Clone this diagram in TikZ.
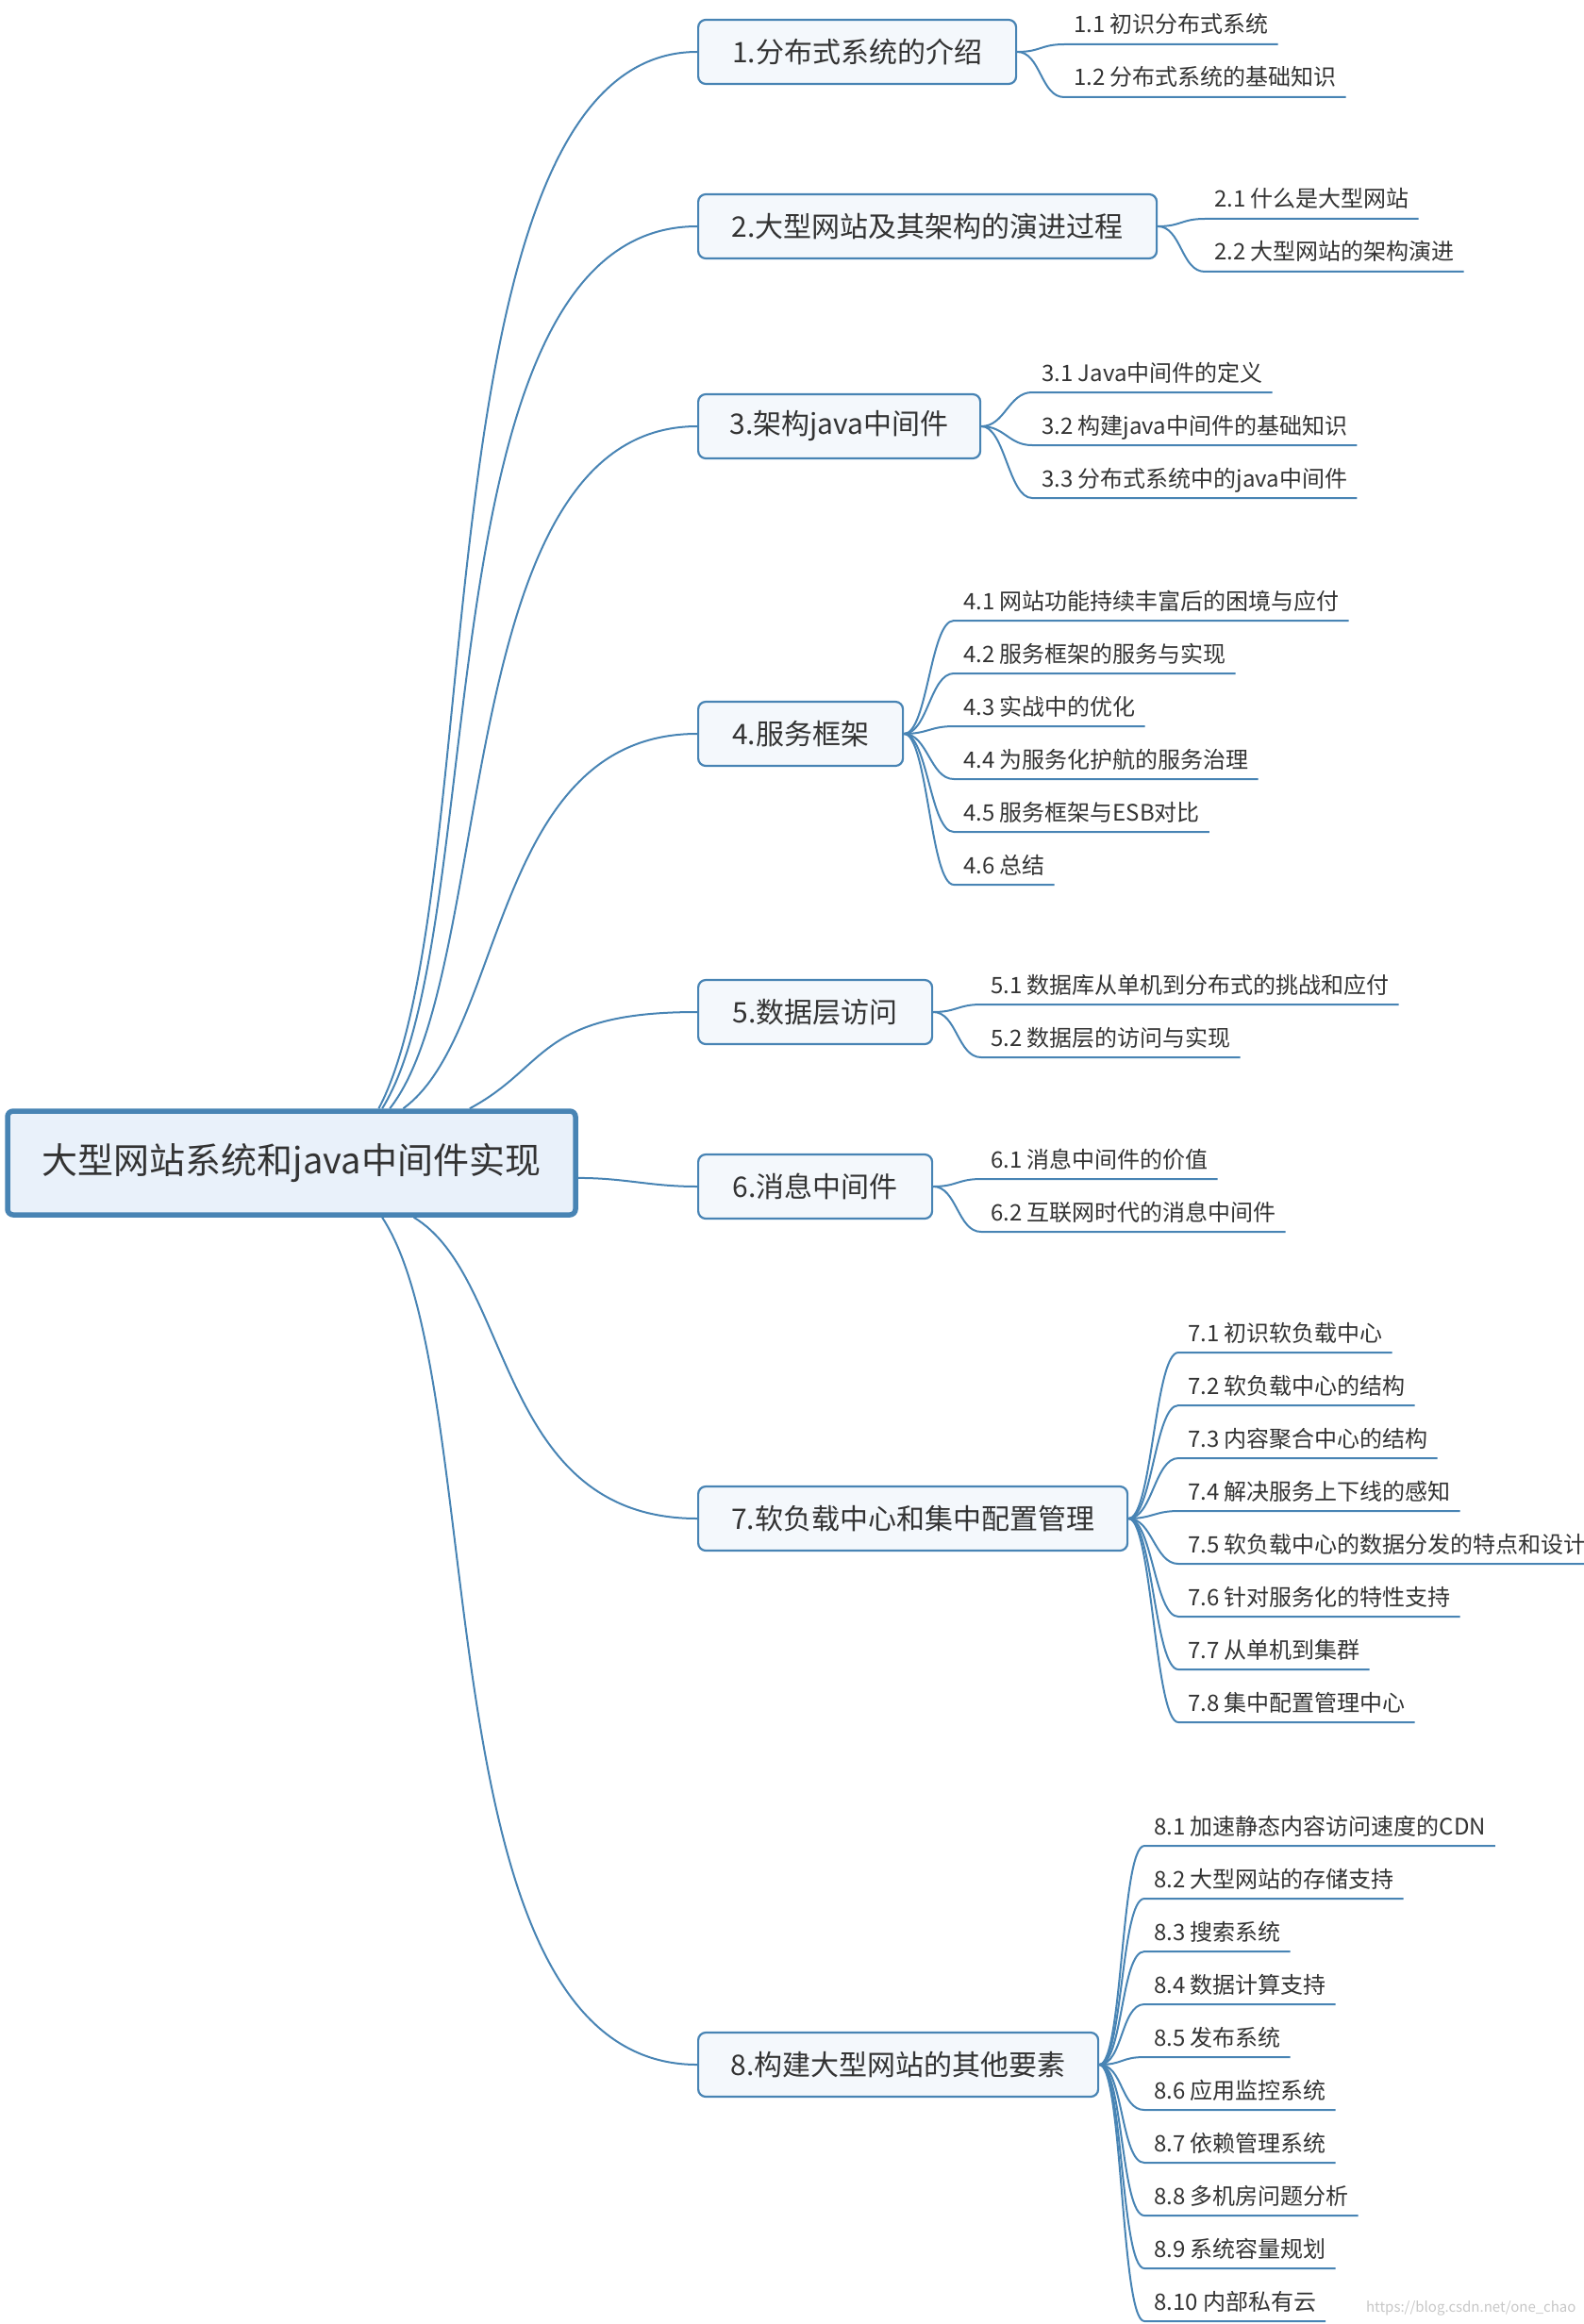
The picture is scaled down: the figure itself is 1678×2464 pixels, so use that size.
\documentclass[tikz,border=0pt]{standalone}
\usepackage{fontspec}
\setmainfont{Noto Sans CJK SC}
\definecolor{linec}{RGB}{72,132,180}
\definecolor{rootfill}{RGB}{233,241,250}
\definecolor{topicfill}{RGB}{244,248,252}
\definecolor{textc}{RGB}{51,51,51}
\begin{document}
\begin{tikzpicture}[x=1pt,y=-1pt,
	root/.style={draw=linec,line width=5.5pt,fill=rootfill,rounded corners=6pt,minimum width=602pt,minimum height=110pt,text=textc,font=\fontsize{38pt}{44pt}\selectfont},
	topic/.style={draw=linec,line width=2.2pt,fill=topicfill,rounded corners=8pt,minimum height=68pt,anchor=west,text=textc,font=\fontsize{30pt}{36pt}\selectfont},
	leaf/.style={anchor=south west,inner xsep=10pt,inner ysep=7pt,text height=20pt,text depth=5pt,outer sep=0pt,text=textc,font=\fontsize{24pt}{28pt}\selectfont},
	link/.style={draw=linec,line width=2pt}]
			\useasboundingbox (0,0) rectangle (1678,2464);
			\node[root] (root) at (309,1233) {大型网站系统和java中间件实现};
			\node[topic,minimum width=337pt] (t1) at (739,55) {1.分布式系统的介绍};
			\node[topic,minimum width=486pt] (t2) at (739,240) {2.大型网站及其架构的演进过程};
			\node[topic,minimum width=299pt] (t3) at (739,452) {3.架构java中间件};
			\node[topic,minimum width=217pt] (t4) at (739,778) {4.服务框架};
			\node[topic,minimum width=248pt] (t5) at (739,1073) {5.数据层访问};
			\node[topic,minimum width=248pt] (t6) at (739,1258) {6.消息中间件};
			\node[topic,minimum width=455pt] (t7) at (739,1610) {7.软负载中心和集中配置管理};
			\node[topic,minimum width=424pt] (t8) at (739,2189) {8.构建大型网站的其他要素};
			% root to topics
			\draw[link] (root.32.5) .. controls +(119,-224) and +(-298,0) .. (t1.west);
			\draw[link] (root.31.1) .. controls +(117,-187) and +(-294,0) .. (t2.west);
			\draw[link] (root.29.4) .. controls +(114,-145) and +(-262,0) .. (t3.west);
			\draw[link] (root.26.2) .. controls +(109,-79) and +(-218,0) .. (t4.west);
			\draw[link] (root.17.1) .. controls +(84,-45) and +(-169,0) .. (t5.west);
			\draw[link] (root.-3.4) .. controls +(50,0) and +(-50,0) .. (t6.west);
			\draw[link] (root.-24.7) .. controls +(106,64) and +(-213,0) .. (t7.west);
			\draw[link] (root.-31.7) .. controls +(118,180) and +(-296,0) .. (t8.west);
			% 1
			\node[leaf] (t11) at (1128,47) {1.1 初识分布式系统};
			\node[leaf] (t12) at (1128,103) {1.2 分布式系统的基础知识};
			\draw[link] (t1.east) .. controls +(25,0) and +(-25,0) .. (t11.south west) -- (t11.south east);
			\draw[link] (t1.east) .. controls +(25,0) and +(-25,0) .. (t12.south west) -- (t12.south east);
			% 2
			\node[leaf] (t21) at (1277,232) {2.1 什么是大型网站};
			\node[leaf] (t22) at (1277,288) {2.2 大型网站的架构演进};
			\draw[link] (t2.east) .. controls +(25,0) and +(-25,0) .. (t21.south west) -- (t21.south east);
			\draw[link] (t2.east) .. controls +(25,0) and +(-25,0) .. (t22.south west) -- (t22.south east);
			% 3
			\node[leaf] (t31) at (1094,416) {3.1 Java中间件的定义};
			\node[leaf] (t32) at (1094,472) {3.2 构建java中间件的基础知识};
			\node[leaf] (t33) at (1094,528) {3.3 分布式系统中的java中间件};
			\draw[link] (t3.east) .. controls +(25,0) and +(-25,0) .. (t31.south west) -- (t31.south east);
			\draw[link] (t3.east) .. controls +(25,0) and +(-25,0) .. (t32.south west) -- (t32.south east);
			\draw[link] (t3.east) .. controls +(25,0) and +(-25,0) .. (t33.south west) -- (t33.south east);
			% 4
			\node[leaf] (t41) at (1011,658) {4.1 网站功能持续丰富后的困境与应付};
			\node[leaf] (t42) at (1011,714) {4.2 服务框架的服务与实现};
			\node[leaf] (t43) at (1011,770) {4.3 实战中的优化};
			\node[leaf] (t44) at (1011,826) {4.4 为服务化护航的服务治理};
			\node[leaf] (t45) at (1011,882) {4.5 服务框架与ESB对比};
			\node[leaf] (t46) at (1011,938) {4.6 总结};
			\draw[link] (t4.east) .. controls +(25,0) and +(-25,0) .. (t41.south west) -- (t41.south east);
			\draw[link] (t4.east) .. controls +(25,0) and +(-25,0) .. (t42.south west) -- (t42.south east);
			\draw[link] (t4.east) .. controls +(25,0) and +(-25,0) .. (t43.south west) -- (t43.south east);
			\draw[link] (t4.east) .. controls +(25,0) and +(-25,0) .. (t44.south west) -- (t44.south east);
			\draw[link] (t4.east) .. controls +(25,0) and +(-25,0) .. (t45.south west) -- (t45.south east);
			\draw[link] (t4.east) .. controls +(25,0) and +(-25,0) .. (t46.south west) -- (t46.south east);
			% 5
			\node[leaf] (t51) at (1040,1065) {5.1 数据库从单机到分布式的挑战和应付};
			\node[leaf] (t52) at (1040,1121) {5.2 数据层的访问与实现};
			\draw[link] (t5.east) .. controls +(25,0) and +(-25,0) .. (t51.south west) -- (t51.south east);
			\draw[link] (t5.east) .. controls +(25,0) and +(-25,0) .. (t52.south west) -- (t52.south east);
			% 6
			\node[leaf] (t61) at (1040,1250) {6.1 消息中间件的价值};
			\node[leaf] (t62) at (1040,1306) {6.2 互联网时代的消息中间件};
			\draw[link] (t6.east) .. controls +(25,0) and +(-25,0) .. (t61.south west) -- (t61.south east);
			\draw[link] (t6.east) .. controls +(25,0) and +(-25,0) .. (t62.south west) -- (t62.south east);
			% 7
			\node[leaf] (t71) at (1249,1434) {7.1 初识软负载中心};
			\node[leaf] (t72) at (1249,1490) {7.2 软负载中心的结构};
			\node[leaf] (t73) at (1249,1546) {7.3 内容聚合中心的结构};
			\node[leaf] (t74) at (1249,1602) {7.4 解决服务上下线的感知};
			\node[leaf] (t75) at (1249,1658) {7.5 软负载中心的数据分发的特点和设计};
			\node[leaf] (t76) at (1249,1714) {7.6 针对服务化的特性支持};
			\node[leaf] (t77) at (1249,1770) {7.7 从单机到集群};
			\node[leaf] (t78) at (1249,1826) {7.8 集中配置管理中心};
			\draw[link] (t7.east) .. controls +(25,0) and +(-25,0) .. (t71.south west) -- (t71.south east);
			\draw[link] (t7.east) .. controls +(25,0) and +(-25,0) .. (t72.south west) -- (t72.south east);
			\draw[link] (t7.east) .. controls +(25,0) and +(-25,0) .. (t73.south west) -- (t73.south east);
			\draw[link] (t7.east) .. controls +(25,0) and +(-25,0) .. (t74.south west) -- (t74.south east);
			\draw[link] (t7.east) .. controls +(25,0) and +(-25,0) .. (t75.south west) -- (t75.south east);
			\draw[link] (t7.east) .. controls +(25,0) and +(-25,0) .. (t76.south west) -- (t76.south east);
			\draw[link] (t7.east) .. controls +(25,0) and +(-25,0) .. (t77.south west) -- (t77.south east);
			\draw[link] (t7.east) .. controls +(25,0) and +(-25,0) .. (t78.south west) -- (t78.south east);
			% 8
			\node[leaf] (t81) at (1213,1957) {8.1 加速静态内容访问速度的CDN};
			\node[leaf] (t82) at (1213,2013) {8.2 大型网站的存储支持};
			\node[leaf] (t83) at (1213,2069) {8.3 搜索系统};
			\node[leaf] (t84) at (1213,2125) {8.4 数据计算支持};
			\node[leaf] (t85) at (1213,2181) {8.5 发布系统};
			\node[leaf] (t86) at (1213,2237) {8.6 应用监控系统};
			\node[leaf] (t87) at (1213,2293) {8.7 依赖管理系统};
			\node[leaf] (t88) at (1213,2349) {8.8 多机房问题分析};
			\node[leaf] (t89) at (1213,2405) {8.9 系统容量规划};
			\node[leaf] (t810) at (1213,2461) {8.10 内部私有云};
			\draw[link] (t8.east) .. controls +(25,0) and +(-25,0) .. (t81.south west) -- (t81.south east);
			\draw[link] (t8.east) .. controls +(25,0) and +(-25,0) .. (t82.south west) -- (t82.south east);
			\draw[link] (t8.east) .. controls +(25,0) and +(-25,0) .. (t83.south west) -- (t83.south east);
			\draw[link] (t8.east) .. controls +(25,0) and +(-25,0) .. (t84.south west) -- (t84.south east);
			\draw[link] (t8.east) .. controls +(25,0) and +(-25,0) .. (t85.south west) -- (t85.south east);
			\draw[link] (t8.east) .. controls +(25,0) and +(-25,0) .. (t86.south west) -- (t86.south east);
			\draw[link] (t8.east) .. controls +(25,0) and +(-25,0) .. (t87.south west) -- (t87.south east);
			\draw[link] (t8.east) .. controls +(25,0) and +(-25,0) .. (t88.south west) -- (t88.south east);
			\draw[link] (t8.east) .. controls +(25,0) and +(-25,0) .. (t89.south west) -- (t89.south east);
			\draw[link] (t8.east) .. controls +(25,0) and +(-25,0) .. (t810.south west) -- (t810.south east);
			\node[anchor=east,text=black!22,font=\fontsize{15pt}{18pt}\selectfont] (wm) at (1674,2447) {https://blog.csdn.net/one\_chao};
		\end{tikzpicture}
\end{document}
